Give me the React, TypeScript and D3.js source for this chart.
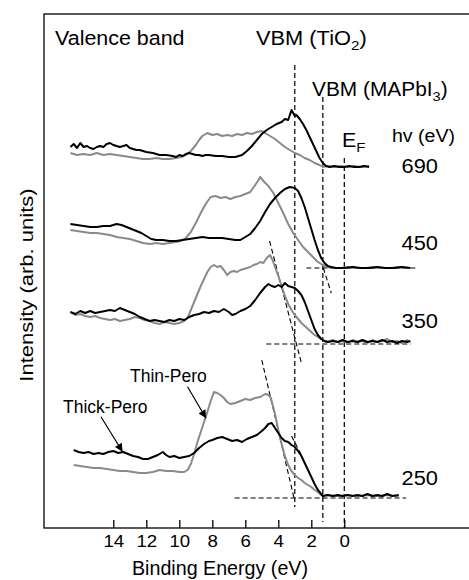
import React, { useEffect, useRef } from 'react'
import { select, scaleLinear, line, axisBottom } from 'd3'

// binding energy ticks
const tickValues = [14, 12, 10, 8, 6, 4, 2, 0]

// photon energies (labels) and vertical offset of each spectrum pair
const photonEnergies = ['690', '450', '350', '250']
const offsets = [361, 260, 186, 32]

// [binding energy (eV), intensity above own baseline]
const thick690 = [[16.6,20],[16.4,23],[16.2,19],[16.0,24],[15.8,20],[15.6,21],[15.4,19],[15.2,18],[15.0,20],[14.8,21],[14.6,20],[14.4,23],[14.2,24],[14.0,22],[13.8,21],[13.6,20],[13.4,21],[13.2,22],[13.0,19],[12.8,18],[12.6,17],[12.4,17],[12.2,16],[12.0,15],[11.6,14],[11.2,12],[10.8,12],[10.4,11],[10.2,10],[10.0,12],[9.8,11],[9.6,13],[9.4,14],[9.2,13],[9.0,12],[8.8,12],[8.6,11],[8.4,12],[8.2,12],[7.8,11],[7.4,11],[7.0,10],[6.6,10],[6.2,12],[5.9,16],[5.6,21],[5.3,27],[5.0,33],[4.7,37],[4.4,40],[4.1,43],[3.8,45],[3.6,48],[3.4,47],[3.2,57],[3.0,51],[2.9,52],[2.7,48],[2.5,43],[2.3,37],[2.1,30],[1.9,23],[1.7,16],[1.5,9],[1.3,4],[1.1,1],[0.9,0],[0.6,1],[0.3,0],[0,0],[-0.3,1],[-0.6,0],[-0.9,0],[-1.2,1],[-1.5,0]]
const thin690 = [[16.6,14],[16.2,12],[15.8,13],[15.4,12],[15.0,14],[14.6,12],[14.2,13],[13.8,12],[13.4,11],[13.0,10],[12.6,9],[12.2,8],[11.8,8],[11.4,9],[11.0,8],[10.6,8],[10.2,9],[9.9,10],[9.6,12],[9.3,16],[9.0,22],[8.8,27],[8.6,31],[8.3,34],[8.0,32],[7.7,33],[7.4,31],[7.1,32],[6.8,31],[6.5,33],[6.2,32],[5.9,34],[5.6,33],[5.3,35],[5.0,36],[4.8,34],[4.5,31],[4.2,28],[3.9,24],[3.6,20],[3.3,17],[3.0,14],[2.7,12],[2.4,9],[2.1,7],[1.8,4],[1.5,2],[1.3,0],[1.0,1],[0.6,0],[0.2,1],[-0.2,0],[-0.6,1],[-1.0,0],[-1.5,1]]
const thick450 = [[16.6,44],[16.2,43],[15.8,42],[15.4,41],[15.0,41],[14.6,42],[14.2,42],[13.8,44],[13.5,43],[13.2,41],[12.9,39],[12.6,37],[12.3,35],[12.0,32],[11.7,29],[11.4,28],[11.0,28],[10.6,27],[10.2,27],[9.8,28],[9.4,29],[9.0,30],[8.6,31],[8.2,30],[7.8,30],[7.4,30],[7.0,29],[6.6,28],[6.3,28],[6.0,31],[5.7,34],[5.4,40],[5.1,47],[4.8,56],[4.5,64],[4.2,70],[3.9,75],[3.6,79],[3.3,81],[3.0,80],[2.8,77],[2.6,70],[2.4,61],[2.2,50],[2.0,39],[1.8,28],[1.6,18],[1.4,10],[1.2,5],[1.0,2],[0.8,1],[0.5,0],[0,0],[-0.5,1],[-1,0],[-1.5,0],[-2,1],[-2.5,0],[-3,0],[-3.5,1],[-4.0,0]]
const thin450 = [[16.6,38],[16.2,37],[15.8,36],[15.4,35],[15.0,35],[14.6,34],[14.2,33],[13.8,31],[13.4,30],[13.0,29],[12.6,27],[12.2,25],[11.8,24],[11.4,25],[11.0,24],[10.6,25],[10.2,26],[9.9,27],[9.6,30],[9.3,36],[9.0,45],[8.7,55],[8.4,64],[8.1,71],[7.8,72],[7.5,70],[7.2,71],[6.9,69],[6.6,71],[6.3,72],[6.0,74],[5.7,76],[5.4,83],[5.2,88],[5.1,91],[4.9,87],[4.6,82],[4.3,75],[4.0,65],[3.7,55],[3.4,44],[3.1,35],[2.8,28],[2.5,21],[2.2,16],[1.9,11],[1.6,6],[1.3,3],[1.0,1],[0.7,0],[0.2,0],[-0.3,1],[-0.8,0],[-1.3,0],[-1.8,1],[-2.3,0],[-2.8,0],[-3.3,1],[-3.9,0]]
const thick350 = [[16.6,30],[16.3,28],[16.0,31],[15.7,29],[15.4,31],[15.1,29],[14.8,30],[14.5,31],[14.2,32],[13.9,31],[13.6,34],[13.3,32],[13.0,30],[12.7,28],[12.4,25],[12.1,23],[11.8,21],[11.5,22],[11.2,21],[10.9,20],[10.6,22],[10.3,21],[10.0,23],[9.7,22],[9.4,25],[9.1,27],[8.8,28],[8.5,30],[8.2,29],[7.9,31],[7.6,30],[7.3,33],[7.0,30],[6.8,27],[6.6,28],[6.3,31],[6.0,33],[5.7,36],[5.4,42],[5.1,49],[4.8,55],[4.6,58],[4.4,56],[4.2,55],[4.0,57],[3.8,55],[3.6,59],[3.4,56],[3.2,55],[3.0,54],[2.8,51],[2.6,47],[2.4,40],[2.2,31],[2.0,22],[1.8,13],[1.6,7],[1.4,3],[1.2,1],[1.0,0],[0.7,1],[0.4,0],[0.1,2],[-0.2,0],[-0.5,1],[-0.8,0],[-1.1,2],[-1.4,0],[-1.7,1],[-2.0,0],[-2.3,2],[-2.6,0],[-2.9,1],[-3.2,-1],[-3.5,1],[-3.8,0],[-4.0,1]]
const thin350 = [[16.6,30],[16.3,27],[16.0,28],[15.7,26],[15.4,25],[15.1,26],[14.8,24],[14.5,23],[14.2,22],[13.9,23],[13.6,21],[13.3,22],[13.0,23],[12.7,25],[12.4,24],[12.1,22],[11.8,21],[11.5,19],[11.2,18],[10.9,20],[10.6,19],[10.3,18],[10.0,19],[9.7,21],[9.5,24],[9.3,32],[9.1,40],[8.9,48],[8.7,56],[8.5,63],[8.3,70],[8.1,75],[7.9,77],[7.7,75],[7.5,76],[7.3,72],[7.1,67],[6.9,70],[6.7,71],[6.5,70],[6.3,72],[6.1,73],[5.9,74],[5.7,75],[5.5,77],[5.3,78],[5.1,80],[4.9,79],[4.7,84],[4.5,87],[4.35,82],[4.2,75],[4.0,66],[3.8,56],[3.6,46],[3.4,38],[3.2,32],[3.0,27],[2.8,23],[2.6,19],[2.4,16],[2.2,13],[2.0,10],[1.8,7],[1.6,5],[1.4,3],[1.2,1],[1.0,0],[0.7,2],[0.4,0],[0.1,1],[-0.2,-1],[-0.5,2],[-0.8,0],[-1.1,1],[-1.4,-1],[-1.7,2],[-2.0,0],[-2.3,1],[-2.6,3],[-2.9,0],[-3.2,1],[-3.5,-1],[-3.8,2],[-4.0,0]]
const thick250 = [[16.4,46],[16.1,44],[15.8,43],[15.5,44],[15.2,42],[14.9,43],[14.6,42],[14.3,44],[14.0,45],[13.7,43],[13.4,44],[13.1,42],[12.8,40],[12.5,39],[12.2,37],[11.9,37],[11.6,39],[11.3,41],[11.0,44],[10.8,41],[10.6,39],[10.3,40],[10.0,38],[9.7,39],[9.4,40],[9.1,43],[8.8,48],[8.5,52],[8.2,55],[8.0,56],[7.7,58],[7.4,59],[7.1,57],[6.8,55],[6.5,56],[6.2,54],[5.9,57],[5.6,59],[5.3,61],[5.0,65],[4.8,68],[4.6,72],[4.4,73],[4.2,68],[4.0,63],[3.8,58],[3.6,55],[3.4,54],[3.2,51],[3.0,49],[2.8,45],[2.6,40],[2.4,33],[2.2,26],[2.0,19],[1.8,12],[1.6,6],[1.4,2],[1.3,0],[1.0,1],[0.7,0],[0.4,1],[0.1,0],[-0.2,1],[-0.5,0],[-0.8,1],[-1.1,0],[-1.4,2],[-1.7,0],[-2.0,1],[-2.3,0],[-2.6,2],[-2.9,0],[-3.3,1]]
const thin250 = [[16.4,31],[16.0,30],[15.6,29],[15.2,28],[14.8,28],[14.4,27],[14.0,26],[13.6,25],[13.2,25],[12.8,24],[12.4,23],[12.0,23],[11.6,24],[11.2,26],[10.8,25],[10.4,25],[10.0,24],[9.7,24],[9.5,26],[9.3,32],[9.1,42],[8.9,54],[8.7,64],[8.5,74],[8.3,84],[8.1,95],[7.9,104],[7.7,103],[7.5,101],[7.3,98],[7.1,94],[6.9,92],[6.6,93],[6.3,95],[6.0,97],[5.7,96],[5.4,98],[5.1,99],[4.8,102],[4.6,101],[4.45,98],[4.2,82],[4.0,66],[3.8,52],[3.6,40],[3.4,31],[3.2,25],[3.0,21],[2.8,18],[2.6,16],[2.4,13],[2.2,11],[2.0,9],[1.8,6],[1.6,4],[1.4,1],[1.3,0],[1.0,1],[0.6,0],[0.2,0],[-0.2,1],[-0.6,0],[-1.0,0],[-1.4,1],[-1.8,0],[-2.2,0],[-2.6,1],[-3.0,0],[-3.3,0]]

const thickSpectra = [thick690, thick450, thick350, thick250]
const thinSpectra = [thin690, thin450, thin350, thin250]

// vertical guides: VBM(TiO2), VBM(MAPbI3), E_F  (energy, top, bottom intensity)
const guideEnergy = [3.0, 1.3, 0]
const guideTop = [463, 431, 370]
const guideBottom = [21, 6, 0]

// dashed baselines + tangent (leading edge) lines: [e1, v1, e2, v2]
const fitLines = [
  [2.3, 260, -4.33, 260],
  [1.27, 260, 0.79, 235],
  [4.73, 184, -4.03, 184],
  [4.53, 287, 2.6, 165],
  [6.65, 30, -3.75, 30],
  [5.0, 168, 3.02, 28],
  [3.2, 92, 2.6, 73]
]

const W = 469
const H = 580
const font = 'Liberation Sans, Arial, Helvetica, sans-serif'

function App() {
  const ref = useRef<SVGSVGElement>(null)

  useEffect(() => {
    const svg = select(ref.current)
    svg.selectAll('*').remove()

    const left = 44, top = 14, bottom = 528

    const x = scaleLinear().domain([14, 0]).range([113.3, 344.3])
    const y = scaleLinear().domain([0, 514]).range([bottom, top])

    // text helper; the original lettering is a bit wider than Arial, so stretch it
    const txt = (tx: number, ty: number, size: number, sx: number, anchor = 'start') =>
      svg.append('text')
        .attr('transform', 'translate(' + tx + ',' + ty + ') scale(' + sx + ',1)')
        .attr('text-anchor', anchor)
        .attr('font-family', font).attr('font-size', size).attr('fill', '#000')

    // frame
    svg.append('rect')
      .attr('x', left).attr('y', top)
      .attr('width', W - left + 2).attr('height', bottom - top)
      .attr('fill', 'none').attr('stroke', '#000').attr('stroke-width', 1.3)

    // bottom axis, ticks pointing inward
    const ax = svg.append('g')
      .attr('transform', 'translate(0,' + bottom + ')')
      .call(axisBottom(x).tickValues(tickValues).tickSizeInner(-8).tickSizeOuter(0).tickPadding(7))
    ax.select('.domain').remove()
    ax.selectAll('line').attr('stroke', '#000').attr('stroke-width', 1.3)
    ax.selectAll('text')
      .attr('font-family', font).attr('font-size', 17).attr('fill', '#000')
      .attr('transform', 'scale(1.1,1)')

    txt(220, 575, 19.5, 1.01, 'middle').text('Binding Energy (eV)')

    svg.append('text')
      .attr('transform', 'translate(33,285) rotate(-90) scale(1.16,1)')
      .attr('text-anchor', 'middle')
      .attr('font-family', font).attr('font-size', 19)
      .text('Intensity (arb. units)')

    // dashed guides
    const dash = '5,3'
    guideEnergy.forEach((e, i) => {
      svg.append('line')
        .attr('x1', x(e)).attr('x2', x(e))
        .attr('y1', y(guideTop[i])).attr('y2', y(guideBottom[i]))
        .attr('stroke', '#000').attr('stroke-width', 1.2).attr('stroke-dasharray', dash)
    })
    fitLines.forEach(d => {
      svg.append('line')
        .attr('x1', x(d[0])).attr('y1', y(d[1]))
        .attr('x2', x(d[2])).attr('y2', y(d[3]))
        .attr('stroke', '#000').attr('stroke-width', 1.1).attr('stroke-dasharray', dash)
    })

    // spectra
    offsets.forEach((off, i) => {
      const path = line<number[]>()
        .x(d => x(d[0]))
        .y(d => y(d[1] + off))
      svg.append('path')
        .datum(thinSpectra[i])
        .attr('fill', 'none').attr('stroke', '#8a8a8a').attr('stroke-width', 2)
        .attr('stroke-linejoin', 'round')
        .attr('d', path)
      svg.append('path')
        .datum(thickSpectra[i])
        .attr('fill', 'none').attr('stroke', '#000').attr('stroke-width', 2)
        .attr('stroke-linejoin', 'round')
        .attr('d', path)
    })

    // photon energy labels
    const labelY = [173, 250, 328, 485]
    photonEnergies.forEach((t, i) => {
      txt(438, labelY[i], 19.5, 1.12, 'end').text(t)
    })

    txt(55, 45, 19.5, 1.1).text('Valence band')
    txt(392, 142, 19, 1.03).text('hv (eV)')

    const sub = (t: any, main: string, s: string, tail: string) => {
      t.append('tspan').text(main)
      t.append('tspan').attr('dy', 5).attr('font-size', '0.7em').text(s)
      t.append('tspan').attr('dy', -5).text(tail)
    }
    sub(txt(256, 45, 19.5, 1.12), 'VBM (TiO', '2', ')')
    sub(txt(312, 96, 19.5, 1.07), 'VBM (MAPbI', '3', ')')
    sub(txt(342, 147, 19.5, 1.1), 'E', 'F', '')

    // curve labels with arrows
    svg.append('defs').append('marker')
      .attr('id', 'arrow').attr('viewBox', '0 0 10 10')
      .attr('refX', 10).attr('refY', 5)
      .attr('markerWidth', 10).attr('markerHeight', 8)
      .attr('markerUnits', 'userSpaceOnUse')
      .attr('orient', 'auto')
      .append('path').attr('d', 'M0,0L10,5L0,10z').attr('fill', '#000')

    txt(130, 381.7, 17.5, 1).text('Thin-Pero')
    txt(63, 413.3, 17.5, 1).text('Thick-Pero')
    const arrows = [[9.5, 141.3, 8.38, 109.7], [14.75, 111.3, 13.44, 76.3]]
    arrows.forEach(a => {
      svg.append('line')
        .attr('x1', x(a[0])).attr('y1', y(a[1]))
        .attr('x2', x(a[2])).attr('y2', y(a[3]))
        .attr('stroke', '#000').attr('stroke-width', 1.2)
        .attr('marker-end', 'url(#arrow)')
    })
  }, [])

  return (
    <svg
      ref={ref}
      width={W}
      height={H}
      style={{ position: 'absolute', left: 0, top: 0, background: '#fff' }}
    />
  )
}

export default App
